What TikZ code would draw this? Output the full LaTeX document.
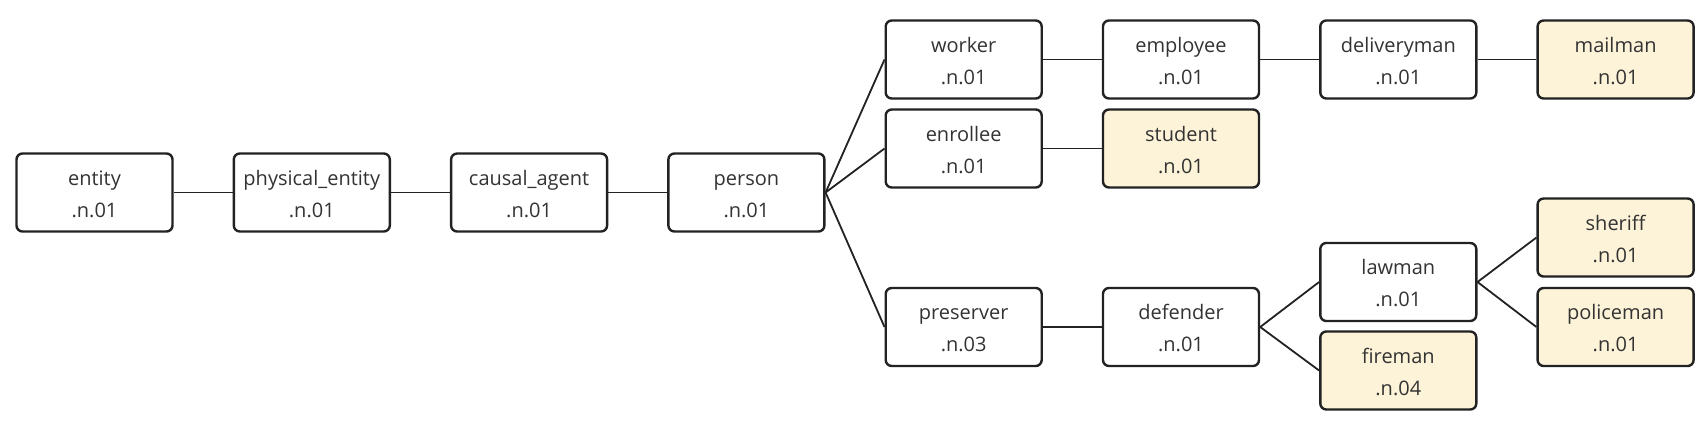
\documentclass[tikz,border=0pt]{standalone}
\usepackage{fontspec}
\setmainfont{Open Sans}
\definecolor{leafyellow}{HTML}{FDF3D8}
\definecolor{inkdark}{HTML}{222222}
\definecolor{textgray}{HTML}{333333}
\newcommand{\synlbl}[2]{\rule[-2pt]{0pt}{12.7pt}#1\\\rule[-2pt]{0pt}{12.7pt}#2}
\begin{document}
\begin{tikzpicture}[x=0.5pt,y=-0.5pt,
  box/.style={draw=inkdark, line width=1.2pt, rounded corners=3pt, fill=white,
    minimum width=78pt, minimum height=39pt, inner sep=0pt, align=center,
    font=\fontsize{10}{16}\selectfont, text=textgray},
  leaf/.style={box, fill=leafyellow},
  link/.style={draw=inkdark, line width=0.9pt}]
\useasboundingbox (0,0) rectangle (1703,434);
% column 1-4
\node[box] (entity)   at (94.5,192.5)  {\synlbl{entity}{.n.01}};
\node[box] (physical) at (311.8,192.5) {\synlbl{physical\_entity}{.n.01}};
\node[box] (causal)   at (529.1,192.5) {\synlbl{causal\_agent}{.n.01}};
\node[box] (person)   at (746.4,192.5) {\synlbl{person}{.n.01}};
% column 5
\node[box] (worker)    at (963.7,59.5)  {\synlbl{worker}{.n.01}};
\node[box] (enrollee)  at (963.7,148.5) {\synlbl{enrollee}{.n.01}};
\node[box] (preserver) at (963.7,327)   {\synlbl{preserver}{.n.03}};
% column 6
\node[box]  (employee) at (1181,59.5)  {\synlbl{employee}{.n.01}};
\node[leaf] (student)  at (1181,148.5) {\synlbl{student}{.n.01}};
\node[box]  (defender) at (1181,327)   {\synlbl{defender}{.n.01}};
% column 7
\node[box]  (delivery) at (1398.3,59.5)  {\synlbl{deliveryman}{.n.01}};
\node[box]  (lawman)   at (1398.3,282)   {\synlbl{lawman}{.n.01}};
\node[leaf] (fireman)  at (1398.3,370.5) {\synlbl{fireman}{.n.04}};
% column 8
\node[leaf] (mailman)   at (1615.6,59.5)  {\synlbl{mailman}{.n.01}};
\node[leaf] (sheriff)   at (1615.6,237.5) {\synlbl{sheriff}{.n.01}};
\node[leaf] (policeman) at (1615.6,327)   {\synlbl{policeman}{.n.01}};
% links
\draw[link] (entity.east) -- (physical.west);
\draw[link] (physical.east) -- (causal.west);
\draw[link] (causal.east) -- (person.west);
\draw[link] (person.east) -- (worker.west);
\draw[link] (person.east) -- (enrollee.west);
\draw[link] (person.east) -- (preserver.west);
\draw[link] (worker.east) -- (employee.west);
\draw[link] (employee.east) -- (delivery.west);
\draw[link] (delivery.east) -- (mailman.west);
\draw[link] (enrollee.east) -- (student.west);
\draw[link] (preserver.east) -- (defender.west);
\draw[link] (defender.east) -- (lawman.west);
\draw[link] (defender.east) -- (fireman.west);
\draw[link] (lawman.east) -- (sheriff.west);
\draw[link] (lawman.east) -- (policeman.west);
\end{tikzpicture}
\end{document}
